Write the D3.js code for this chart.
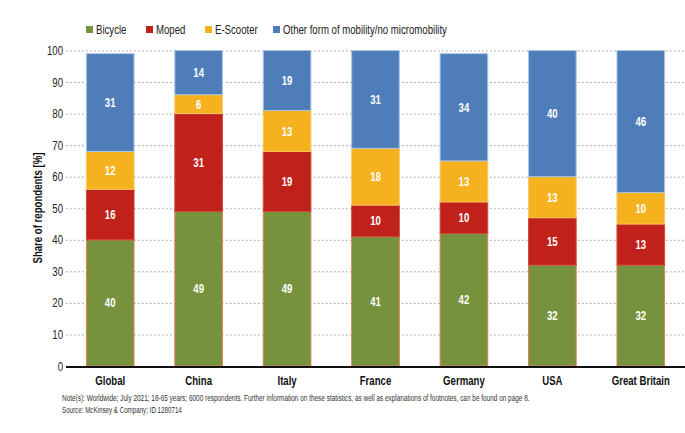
<!DOCTYPE html>
<html><head><meta charset="utf-8">
<script src="https://cdn.jsdelivr.net/npm/d3@7"></script>
<style>
body{margin:0;background:#fff;}
text{font-family:"Liberation Sans",Arial,sans-serif;}
</style></head>
<body>
<svg id="c" width="685" height="433"></svg>
<script>
const categories = ["Global","China","Italy","France","Germany","USA","Great Britain"];
const seriesNames = ["Bicycle","Moped","E-Scooter","Other form of mobility/no micromobility"];
const bicycle = [40,49,49,41,42,32,32];
const moped = [16,31,19,10,10,15,13];
const escooter = [12,6,13,18,13,13,10];
const other = [31,14,19,31,34,40,46];
const yTicks = [0,10,20,30,40,50,60,70,80,90,100];

const colors = ["#76923c","#c0211b","#f6b11f","#4f7dba"];
const strokes = ["#e0805a","#d04a3a","#f9c860","#a9c6e6"];
const SX = 0.74; // condensed look

const svg = d3.select("#c");
const x = d3.scaleBand().domain(categories).range([66,685]).paddingInner(0.45).paddingOuter(0.225);
const y = d3.scaleLinear().domain([0,100]).range([366,50.5]).clamp(true);

const rows = categories.map((c,i)=>({cat:c, Bicycle:bicycle[i], Moped:moped[i], "E-Scooter":escooter[i], [seriesNames[3]]:other[i]}));
const stack = d3.stack().keys(seriesNames)(rows);

function place(sel, fx, fy, sx, rot){
  sel.attr("transform",(d,i)=>`translate(${typeof fx==="function"?fx(d,i):fx},${typeof fy==="function"?fy(d,i):fy})${rot?" rotate("+rot+")":""} scale(${sx},1)`);
  return sel;
}

// grid
svg.append("g").selectAll("line").data(yTicks.filter(d=>d>0)).join("line")
  .attr("x1",66).attr("x2",685).attr("y1",d=>y(d)+0.5).attr("y2",d=>y(d)+0.5)
  .attr("stroke","#9a9a9a").attr("stroke-width",1).attr("stroke-dasharray","1.5,2.5");

// y tick labels
place(svg.append("g").selectAll("text").data(yTicks).join("text"), 63, d=>y(d), SX)
  .attr("dy","0.35em").attr("text-anchor","end")
  .attr("font-size",13).attr("fill","#222").text(d=>d);

// bars
const g = svg.append("g");
stack.forEach((s,si)=>{
  g.append("g").selectAll("rect").data(s).join("rect")
    .attr("x",d=>x(d.data.cat)+0.5).attr("width",x.bandwidth()-1)
    .attr("y",d=>y(d[1])).attr("height",d=>y(d[0])-y(d[1]))
    .attr("fill",colors[si]).attr("stroke",strokes[si]).attr("stroke-width",1);
  place(g.append("g").selectAll("text").data(s).join("text"),
      d=>x(d.data.cat)+x.bandwidth()/2, d=>(y(d[0])+y(d[1]))/2, SX)
    .attr("dy","0.35em").attr("text-anchor","middle").attr("fill","#fff")
    .attr("font-size",13).attr("font-weight","bold").text(d=>d[1]-d[0]);
});

// x axis line
svg.append("line").attr("x1",66).attr("x2",685).attr("y1",367).attr("y2",367)
  .attr("stroke","#111").attr("stroke-width",2);

// category labels
place(svg.append("g").selectAll("text").data(categories).join("text"),
    d=>x(d)+x.bandwidth()/2, 385, SX)
  .attr("text-anchor","middle")
  .attr("font-size",13).attr("font-weight","bold").attr("fill","#111").text(d=>d);

// y axis title
svg.append("text").attr("transform",`translate(42,208) rotate(-90) scale(${SX},1)`)
  .attr("text-anchor","middle").attr("font-size",13).attr("font-weight","bold").attr("fill","#111")
  .text("Share of repondents [%]");

// legend
const legX = [86,146,205,273];
const lg = svg.append("g");
seriesNames.forEach((n,i)=>{
  lg.append("rect").attr("x",legX[i]).attr("y",26).attr("width",7).attr("height",7).attr("fill",colors[i]);
  lg.append("text").attr("transform",`translate(${legX[i]+10},34) scale(${SX},1)`)
    .attr("font-size",13).attr("fill","#222").text(n);
});

// notes
const notes = [
  {t:"Note(s): Worldwide; July 2021; 18-65 years; 6000 respondents. Further information on these statistics, as well as explanations of footnotes, can be found on page 8.", y:401, w:468},
  {t:"Source: McKinsey & Company; ID 1280714", y:413, w:120}
];
notes.forEach(n=>{
  const t = svg.append("text").attr("font-size",9.5).attr("fill","#333").text(n.t);
  const L = t.node().getComputedTextLength();
  t.attr("transform",`translate(62,${n.y}) scale(${n.w/L},1)`);
});
</script>
</body></html>
